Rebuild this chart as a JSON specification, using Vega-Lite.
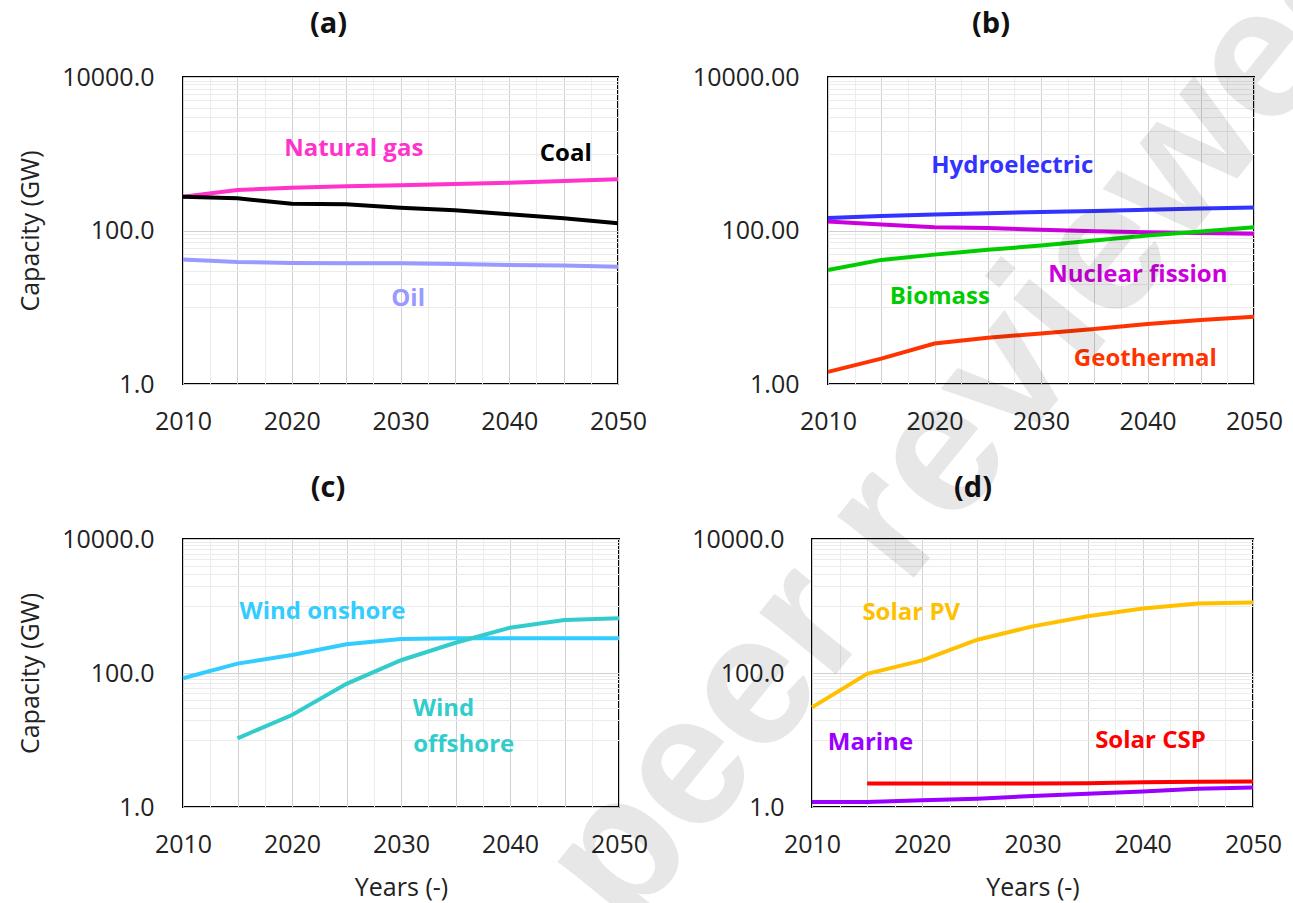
{
  "$schema": "https://vega.github.io/schema/vega-lite/v6.json",
  "background": "white",
  "padding": {"left": 17, "top": -126, "right": 0, "bottom": 0},
  "datasets": {
    "lines": [
      {"panel": "a", "series": "Natural gas", "year": 2010, "value": 276},
      {"panel": "a", "series": "Natural gas", "year": 2015, "value": 336},
      {"panel": "a", "series": "Natural gas", "year": 2020, "value": 361},
      {"panel": "a", "series": "Natural gas", "year": 2025, "value": 377},
      {"panel": "a", "series": "Natural gas", "year": 2030, "value": 389},
      {"panel": "a", "series": "Natural gas", "year": 2035, "value": 403},
      {"panel": "a", "series": "Natural gas", "year": 2040, "value": 418},
      {"panel": "a", "series": "Natural gas", "year": 2045, "value": 442},
      {"panel": "a", "series": "Natural gas", "year": 2050, "value": 465},
      {"panel": "a", "series": "Coal", "year": 2010, "value": 276},
      {"panel": "a", "series": "Coal", "year": 2015, "value": 263},
      {"panel": "a", "series": "Coal", "year": 2020, "value": 223},
      {"panel": "a", "series": "Coal", "year": 2025, "value": 219},
      {"panel": "a", "series": "Coal", "year": 2030, "value": 198},
      {"panel": "a", "series": "Coal", "year": 2035, "value": 183},
      {"panel": "a", "series": "Coal", "year": 2040, "value": 163},
      {"panel": "a", "series": "Coal", "year": 2045, "value": 144},
      {"panel": "a", "series": "Coal", "year": 2050, "value": 124},
      {"panel": "a", "series": "Oil", "year": 2010, "value": 42},
      {"panel": "a", "series": "Oil", "year": 2015, "value": 39},
      {"panel": "a", "series": "Oil", "year": 2020, "value": 37.7},
      {"panel": "a", "series": "Oil", "year": 2025, "value": 37.5},
      {"panel": "a", "series": "Oil", "year": 2030, "value": 37.4},
      {"panel": "a", "series": "Oil", "year": 2035, "value": 36.5},
      {"panel": "a", "series": "Oil", "year": 2040, "value": 35.6},
      {"panel": "a", "series": "Oil", "year": 2045, "value": 35},
      {"panel": "a", "series": "Oil", "year": 2050, "value": 33.7},
      {"panel": "b", "series": "Hydroelectric", "year": 2010, "value": 145},
      {"panel": "b", "series": "Hydroelectric", "year": 2015, "value": 154},
      {"panel": "b", "series": "Hydroelectric", "year": 2020, "value": 162},
      {"panel": "b", "series": "Hydroelectric", "year": 2025, "value": 168},
      {"panel": "b", "series": "Hydroelectric", "year": 2030, "value": 174},
      {"panel": "b", "series": "Hydroelectric", "year": 2035, "value": 180},
      {"panel": "b", "series": "Hydroelectric", "year": 2040, "value": 186},
      {"panel": "b", "series": "Hydroelectric", "year": 2045, "value": 193},
      {"panel": "b", "series": "Hydroelectric", "year": 2050, "value": 200},
      {"panel": "b", "series": "Nuclear fission", "year": 2010, "value": 131},
      {"panel": "b", "series": "Nuclear fission", "year": 2015, "value": 120},
      {"panel": "b", "series": "Nuclear fission", "year": 2020, "value": 110},
      {"panel": "b", "series": "Nuclear fission", "year": 2025, "value": 108},
      {"panel": "b", "series": "Nuclear fission", "year": 2030, "value": 102},
      {"panel": "b", "series": "Nuclear fission", "year": 2035, "value": 98},
      {"panel": "b", "series": "Nuclear fission", "year": 2040, "value": 95},
      {"panel": "b", "series": "Nuclear fission", "year": 2045, "value": 93},
      {"panel": "b", "series": "Nuclear fission", "year": 2050, "value": 90.6},
      {"panel": "b", "series": "Biomass", "year": 2010, "value": 30.6},
      {"panel": "b", "series": "Biomass", "year": 2015, "value": 41.4},
      {"panel": "b", "series": "Biomass", "year": 2020, "value": 48.5},
      {"panel": "b", "series": "Biomass", "year": 2025, "value": 56},
      {"panel": "b", "series": "Biomass", "year": 2030, "value": 63.7},
      {"panel": "b", "series": "Biomass", "year": 2035, "value": 74},
      {"panel": "b", "series": "Biomass", "year": 2040, "value": 86},
      {"panel": "b", "series": "Biomass", "year": 2045, "value": 97},
      {"panel": "b", "series": "Biomass", "year": 2050, "value": 110},
      {"panel": "b", "series": "Geothermal", "year": 2010, "value": 1.44},
      {"panel": "b", "series": "Geothermal", "year": 2015, "value": 2.14},
      {"panel": "b", "series": "Geothermal", "year": 2020, "value": 3.37},
      {"panel": "b", "series": "Geothermal", "year": 2025, "value": 4.0},
      {"panel": "b", "series": "Geothermal", "year": 2030, "value": 4.55},
      {"panel": "b", "series": "Geothermal", "year": 2035, "value": 5.2},
      {"panel": "b", "series": "Geothermal", "year": 2040, "value": 6.03},
      {"panel": "b", "series": "Geothermal", "year": 2045, "value": 6.8},
      {"panel": "b", "series": "Geothermal", "year": 2050, "value": 7.5},
      {"panel": "c", "series": "Wind onshore", "year": 2010, "value": 83.4},
      {"panel": "c", "series": "Wind onshore", "year": 2015, "value": 138},
      {"panel": "c", "series": "Wind onshore", "year": 2020, "value": 186},
      {"panel": "c", "series": "Wind onshore", "year": 2025, "value": 268},
      {"panel": "c", "series": "Wind onshore", "year": 2030, "value": 321},
      {"panel": "c", "series": "Wind onshore", "year": 2035, "value": 330},
      {"panel": "c", "series": "Wind onshore", "year": 2040, "value": 330},
      {"panel": "c", "series": "Wind onshore", "year": 2045, "value": 330},
      {"panel": "c", "series": "Wind onshore", "year": 2050, "value": 330},
      {"panel": "c", "series": "Wind offshore", "year": 2015, "value": 10.6},
      {"panel": "c", "series": "Wind offshore", "year": 2020, "value": 23.6},
      {"panel": "c", "series": "Wind offshore", "year": 2025, "value": 69},
      {"panel": "c", "series": "Wind offshore", "year": 2030, "value": 155},
      {"panel": "c", "series": "Wind offshore", "year": 2035, "value": 283},
      {"panel": "c", "series": "Wind offshore", "year": 2040, "value": 474},
      {"panel": "c", "series": "Wind offshore", "year": 2045, "value": 618},
      {"panel": "c", "series": "Wind offshore", "year": 2050, "value": 655},
      {"panel": "d", "series": "Solar PV", "year": 2010, "value": 30.7},
      {"panel": "d", "series": "Solar PV", "year": 2015, "value": 97},
      {"panel": "d", "series": "Solar PV", "year": 2020, "value": 154},
      {"panel": "d", "series": "Solar PV", "year": 2025, "value": 314},
      {"panel": "d", "series": "Solar PV", "year": 2030, "value": 497},
      {"panel": "d", "series": "Solar PV", "year": 2035, "value": 702},
      {"panel": "d", "series": "Solar PV", "year": 2040, "value": 915},
      {"panel": "d", "series": "Solar PV", "year": 2045, "value": 1088},
      {"panel": "d", "series": "Solar PV", "year": 2050, "value": 1125},
      {"panel": "d", "series": "Solar CSP", "year": 2015, "value": 2.25},
      {"panel": "d", "series": "Solar CSP", "year": 2020, "value": 2.25},
      {"panel": "d", "series": "Solar CSP", "year": 2025, "value": 2.25},
      {"panel": "d", "series": "Solar CSP", "year": 2030, "value": 2.25},
      {"panel": "d", "series": "Solar CSP", "year": 2035, "value": 2.27},
      {"panel": "d", "series": "Solar CSP", "year": 2040, "value": 2.35},
      {"panel": "d", "series": "Solar CSP", "year": 2045, "value": 2.38},
      {"panel": "d", "series": "Solar CSP", "year": 2050, "value": 2.4},
      {"panel": "d", "series": "Marine", "year": 2010, "value": 1.19},
      {"panel": "d", "series": "Marine", "year": 2015, "value": 1.19},
      {"panel": "d", "series": "Marine", "year": 2020, "value": 1.26},
      {"panel": "d", "series": "Marine", "year": 2025, "value": 1.33},
      {"panel": "d", "series": "Marine", "year": 2030, "value": 1.46},
      {"panel": "d", "series": "Marine", "year": 2035, "value": 1.58},
      {"panel": "d", "series": "Marine", "year": 2040, "value": 1.7},
      {"panel": "d", "series": "Marine", "year": 2045, "value": 1.88},
      {"panel": "d", "series": "Marine", "year": 2050, "value": 1.95}
    ],
    "labels": [
      {"panel": "a", "series": "Natural gas", "label": "Natural gas", "year": 2025.7, "value": 1143},
      {"panel": "a", "series": "Coal", "label": "Coal", "year": 2045.2, "value": 1000},
      {"panel": "a", "series": "Oil", "label": "Oil", "year": 2030.7, "value": 12.9},
      {"panel": "b", "series": "Hydroelectric", "label": "Hydroelectric", "year": 2027.3, "value": 687},
      {"panel": "b", "series": "Nuclear fission", "label": "Nuclear fission", "year": 2039.1, "value": 26.6},
      {"panel": "b", "series": "Biomass", "label": "Biomass", "year": 2020.5, "value": 13.4},
      {"panel": "b", "series": "Geothermal", "label": "Geothermal", "year": 2039.8, "value": 2.14},
      {"panel": "c", "series": "Wind onshore", "label": "Wind onshore", "year": 2022.8, "value": 822},
      {"panel": "c", "series": "Wind offshore", "label": "Wind", "year": 2033.9, "value": 29.3},
      {"panel": "c", "series": "Wind offshore", "label": "offshore", "year": 2035.75, "value": 8.4},
      {"panel": "d", "series": "Solar PV", "label": "Solar PV", "year": 2019.0, "value": 787},
      {"panel": "d", "series": "Marine", "label": "Marine", "year": 2015.3, "value": 8.9},
      {"panel": "d", "series": "Solar CSP", "label": "Solar CSP", "year": 2040.7, "value": 9.75}
    ],
    "ptitle": [
      {"text": "(d)", "year": 2024.6, "value": 57700}
    ],
    "wm": [
      {"text": "peer reviewed", "year": 2024.6, "value": 685000}
    ]
  },
  "config": {
    "font": "Open Sans",
    "view": {"stroke": "#000000", "strokeWidth": 2},
    "axis": {
      "labelFont": "Open Sans", "labelFontSize": 25, "labelColor": "#222222",
      "titleFont": "Open Sans", "titleFontSize": 25, "titleFontWeight": "normal", "titleColor": "#222222",
      "ticks": false, "domain": false, "labelFlush": false, "labelOverlap": false, "labelBound": false,
      "grid": true, "gridWidth": 1
    },
    "title": {"font": "Open Sans", "fontSize": 29, "fontWeight": "bold", "color": "#111111", "frame": "group", "anchor": "middle", "baseline": "alphabetic"}
  },
  "vconcat": [
    {
      "bounds": "flush",
      "spacing": 210,
      "hconcat": [
        {
          "title": {"text": "(a)", "dx": -72, "offset": 26},
          "width": 435, "height": 307,
          "encoding": {
            "x": {"field": "year", "type": "quantitative", "scale": {"domain": [2010, 2050], "nice": false, "zero": false},
              "axis": {"title": null, "values": [2010, 2012.5, 2015, 2017.5, 2020, 2022.5, 2025, 2027.5, 2030, 2032.5, 2035, 2037.5, 2040, 2042.5, 2045, 2047.5, 2050],
                "labelExpr": "datum.value % 10 == 0 ? '' + datum.value : ''", "labelPadding": 25,
                "gridColor": {"condition": {"test": "datum.value % 5 == 0", "value": "#d0d0d0"}, "value": "#ececec"}}},
            "y": {"field": "value", "type": "quantitative", "scale": {"type": "log", "domain": [1, 10000], "nice": false},
              "axis": {"title": "Capacity (GW)", "values": [1, 10, 20, 30, 40, 50, 60, 70, 80, 90, 100, 1000, 2000, 3000, 4000, 5000, 6000, 7000, 8000, 9000, 10000],
                "labelExpr": "(datum.value == 1 || datum.value == 100 || datum.value == 10000) ? format(datum.value, '.1f') : ''",
                "labelPadding": 29, "minExtent": 125, "maxExtent": 125, "titlePadding": 15,
                "gridColor": {"condition": {"test": "datum.value == 1 || datum.value == 100 || datum.value == 10000", "value": "#d0d0d0"}, "value": "#ebebeb"}}}
          },
          "layer": [
            {"data": {"name": "lines"}, "transform": [{"filter": "datum.panel == 'a'"}],
              "mark": {"type": "line", "strokeWidth": 4},
              "encoding": {"color": {"field": "series", "type": "nominal", "legend": null,
                "scale": {"domain": ["Natural gas", "Coal", "Oil", "Hydroelectric", "Nuclear fission", "Biomass", "Geothermal", "Wind onshore", "Wind offshore", "Solar PV", "Solar CSP", "Marine"],
                  "range": ["#FF33CC", "#000000", "#9999FF", "#3333FF", "#CC00DD", "#00CC00", "#FF3300", "#33CCFF", "#33CCCC", "#FFC000", "#FF0000", "#9900FF"]}}}},
            {"data": {"name": "labels"}, "transform": [{"filter": "datum.panel == 'a'"}],
              "mark": {"type": "text", "font": "Open Sans", "fontWeight": "bold", "fontSize": 24, "align": "center", "baseline": "middle"},
              "encoding": {"text": {"field": "label"}, "color": {"field": "series", "type": "nominal", "legend": null,
                "scale": {"domain": ["Natural gas", "Coal", "Oil", "Hydroelectric", "Nuclear fission", "Biomass", "Geothermal", "Wind onshore", "Wind offshore", "Solar PV", "Solar CSP", "Marine"],
                  "range": ["#FF33CC", "#000000", "#9999FF", "#3333FF", "#CC00DD", "#00CC00", "#FF3300", "#33CCFF", "#33CCCC", "#FFC000", "#FF0000", "#9900FF"]}}}}
          ]
        },
        {
          "title": {"text": "(b)", "dx": -50, "offset": 26},
          "width": 426, "height": 307,
          "encoding": {
            "x": {"field": "year", "type": "quantitative", "scale": {"domain": [2010, 2050], "nice": false, "zero": false},
              "axis": {"title": null, "values": [2010, 2012.5, 2015, 2017.5, 2020, 2022.5, 2025, 2027.5, 2030, 2032.5, 2035, 2037.5, 2040, 2042.5, 2045, 2047.5, 2050],
                "labelExpr": "datum.value % 10 == 0 ? '' + datum.value : ''", "labelPadding": 25,
                "gridColor": {"condition": {"test": "datum.value % 5 == 0", "value": "#d0d0d0"}, "value": "#ececec"}}},
            "y": {"field": "value", "type": "quantitative", "scale": {"type": "log", "domain": [1, 10000], "nice": false},
              "axis": {"title": null, "values": [1, 10, 20, 30, 40, 50, 60, 70, 80, 90, 100, 1000, 2000, 3000, 4000, 5000, 6000, 7000, 8000, 9000, 10000],
                "labelExpr": "(datum.value == 1 || datum.value == 100 || datum.value == 10000) ? format(datum.value, '.2f') : ''",
                "labelPadding": 29,
                "gridColor": {"condition": {"test": "datum.value == 1 || datum.value == 100 || datum.value == 10000", "value": "#d0d0d0"}, "value": "#ebebeb"}}}
          },
          "layer": [
            {"data": {"name": "lines"}, "transform": [{"filter": "datum.panel == 'b'"}],
              "mark": {"type": "line", "strokeWidth": 4},
              "encoding": {"color": {"field": "series", "type": "nominal", "legend": null,
                "scale": {"domain": ["Natural gas", "Coal", "Oil", "Hydroelectric", "Nuclear fission", "Biomass", "Geothermal", "Wind onshore", "Wind offshore", "Solar PV", "Solar CSP", "Marine"],
                  "range": ["#FF33CC", "#000000", "#9999FF", "#3333FF", "#CC00DD", "#00CC00", "#FF3300", "#33CCFF", "#33CCCC", "#FFC000", "#FF0000", "#9900FF"]}}}},
            {"data": {"name": "labels"}, "transform": [{"filter": "datum.panel == 'b'"}],
              "mark": {"type": "text", "font": "Open Sans", "fontWeight": "bold", "fontSize": 24, "align": "center", "baseline": "middle"},
              "encoding": {"text": {"field": "label"}, "color": {"field": "series", "type": "nominal", "legend": null,
                "scale": {"domain": ["Natural gas", "Coal", "Oil", "Hydroelectric", "Nuclear fission", "Biomass", "Geothermal", "Wind onshore", "Wind offshore", "Solar PV", "Solar CSP", "Marine"],
                  "range": ["#FF33CC", "#000000", "#9999FF", "#3333FF", "#CC00DD", "#00CC00", "#FF3300", "#33CCFF", "#33CCCC", "#FFC000", "#FF0000", "#9900FF"]}}}}
          ]
        }
      ]
    },
    {
      "bounds": "flush",
      "spacing": 193,
      "hconcat": [
        {
          "title": {"text": "(c)", "dx": -73, "offset": 24},
          "width": 436, "height": 268,
          "encoding": {
            "x": {"field": "year", "type": "quantitative", "scale": {"domain": [2010, 2050], "nice": false, "zero": false},
              "axis": {"title": "Years (-)", "values": [2010, 2012.5, 2015, 2017.5, 2020, 2022.5, 2025, 2027.5, 2030, 2032.5, 2035, 2037.5, 2040, 2042.5, 2045, 2047.5, 2050],
                "labelExpr": "datum.value % 10 == 0 ? '' + datum.value : ''", "labelPadding": 25, "minExtent": 50, "maxExtent": 50, "titlePadding": 18,
                "gridColor": {"condition": {"test": "datum.value % 5 == 0", "value": "#d0d0d0"}, "value": "#ececec"}}},
            "y": {"field": "value", "type": "quantitative", "scale": {"type": "log", "domain": [1, 10000], "nice": false},
              "axis": {"title": "Capacity (GW)", "values": [1, 10, 20, 30, 40, 50, 60, 70, 80, 90, 100, 1000, 2000, 3000, 4000, 5000, 6000, 7000, 8000, 9000, 10000],
                "labelExpr": "(datum.value == 1 || datum.value == 100 || datum.value == 10000) ? format(datum.value, '.1f') : ''",
                "labelPadding": 29, "minExtent": 125, "maxExtent": 125, "titlePadding": 15,
                "gridColor": {"condition": {"test": "datum.value == 1 || datum.value == 100 || datum.value == 10000", "value": "#d0d0d0"}, "value": "#ebebeb"}}}
          },
          "layer": [
            {"data": {"name": "lines"}, "transform": [{"filter": "datum.panel == 'c'"}],
              "mark": {"type": "line", "strokeWidth": 4},
              "encoding": {"color": {"field": "series", "type": "nominal", "legend": null,
                "scale": {"domain": ["Natural gas", "Coal", "Oil", "Hydroelectric", "Nuclear fission", "Biomass", "Geothermal", "Wind onshore", "Wind offshore", "Solar PV", "Solar CSP", "Marine"],
                  "range": ["#FF33CC", "#000000", "#9999FF", "#3333FF", "#CC00DD", "#00CC00", "#FF3300", "#33CCFF", "#33CCCC", "#FFC000", "#FF0000", "#9900FF"]}}}},
            {"data": {"name": "labels"}, "transform": [{"filter": "datum.panel == 'c'"}],
              "mark": {"type": "text", "font": "Open Sans", "fontWeight": "bold", "fontSize": 24, "align": "center", "baseline": "middle"},
              "encoding": {"text": {"field": "label"}, "color": {"field": "series", "type": "nominal", "legend": null,
                "scale": {"domain": ["Natural gas", "Coal", "Oil", "Hydroelectric", "Nuclear fission", "Biomass", "Geothermal", "Wind onshore", "Wind offshore", "Solar PV", "Solar CSP", "Marine"],
                  "range": ["#FF33CC", "#000000", "#9999FF", "#3333FF", "#CC00DD", "#00CC00", "#FF3300", "#33CCFF", "#33CCCC", "#FFC000", "#FF0000", "#9900FF"]}}}}
          ]
        },
        {
          "width": 441, "height": 268,
          "encoding": {
            "x": {"field": "year", "type": "quantitative", "scale": {"domain": [2010, 2050], "nice": false, "zero": false},
              "axis": {"title": "Years (-)", "values": [2010, 2012.5, 2015, 2017.5, 2020, 2022.5, 2025, 2027.5, 2030, 2032.5, 2035, 2037.5, 2040, 2042.5, 2045, 2047.5, 2050],
                "labelExpr": "datum.value % 10 == 0 ? '' + datum.value : ''", "labelPadding": 25, "minExtent": 50, "maxExtent": 50, "titlePadding": 18,
                "gridColor": {"condition": {"test": "datum.value % 5 == 0", "value": "#d0d0d0"}, "value": "#ececec"}}},
            "y": {"field": "value", "type": "quantitative", "scale": {"type": "log", "domain": [1, 10000], "nice": false},
              "axis": {"title": null, "values": [1, 10, 20, 30, 40, 50, 60, 70, 80, 90, 100, 1000, 2000, 3000, 4000, 5000, 6000, 7000, 8000, 9000, 10000],
                "labelExpr": "(datum.value == 1 || datum.value == 100 || datum.value == 10000) ? format(datum.value, '.1f') : ''",
                "labelPadding": 28,
                "gridColor": {"condition": {"test": "datum.value == 1 || datum.value == 100 || datum.value == 10000", "value": "#d0d0d0"}, "value": "#ebebeb"}}}
          },
          "layer": [
            {"data": {"name": "lines"}, "transform": [{"filter": "datum.panel == 'd'"}],
              "mark": {"type": "line", "strokeWidth": 4},
              "encoding": {"color": {"field": "series", "type": "nominal", "legend": null,
                "scale": {"domain": ["Natural gas", "Coal", "Oil", "Hydroelectric", "Nuclear fission", "Biomass", "Geothermal", "Wind onshore", "Wind offshore", "Solar PV", "Solar CSP", "Marine"],
                  "range": ["#FF33CC", "#000000", "#9999FF", "#3333FF", "#CC00DD", "#00CC00", "#FF3300", "#33CCFF", "#33CCCC", "#FFC000", "#FF0000", "#9900FF"]}}}},
            {"data": {"name": "labels"}, "transform": [{"filter": "datum.panel == 'd'"}],
              "mark": {"type": "text", "font": "Open Sans", "fontWeight": "bold", "fontSize": 24, "align": "center", "baseline": "middle"},
              "encoding": {"text": {"field": "label"}, "color": {"field": "series", "type": "nominal", "legend": null,
                "scale": {"domain": ["Natural gas", "Coal", "Oil", "Hydroelectric", "Nuclear fission", "Biomass", "Geothermal", "Wind onshore", "Wind offshore", "Solar PV", "Solar CSP", "Marine"],
                  "range": ["#FF33CC", "#000000", "#9999FF", "#3333FF", "#CC00DD", "#00CC00", "#FF3300", "#33CCFF", "#33CCCC", "#FFC000", "#FF0000", "#9900FF"]}}}},
            {"data": {"name": "ptitle"},
              "mark": {"type": "text", "font": "Open Sans", "fontWeight": "bold", "fontSize": 29, "align": "center", "baseline": "middle", "fill": "#111111"},
              "encoding": {"text": {"field": "text"}}},
            {"data": {"name": "wm"},
              "mark": {"type": "text", "font": "Liberation Sans", "fontWeight": "bold", "fontSize": 186, "angle": -51, "align": "center", "baseline": "middle", "fill": "#000000", "opacity": 0.09},
              "encoding": {"text": {"field": "text"}}}
          ]
        }
      ]
    }
  ],
  "spacing": 462,
  "bounds": "flush"
}
